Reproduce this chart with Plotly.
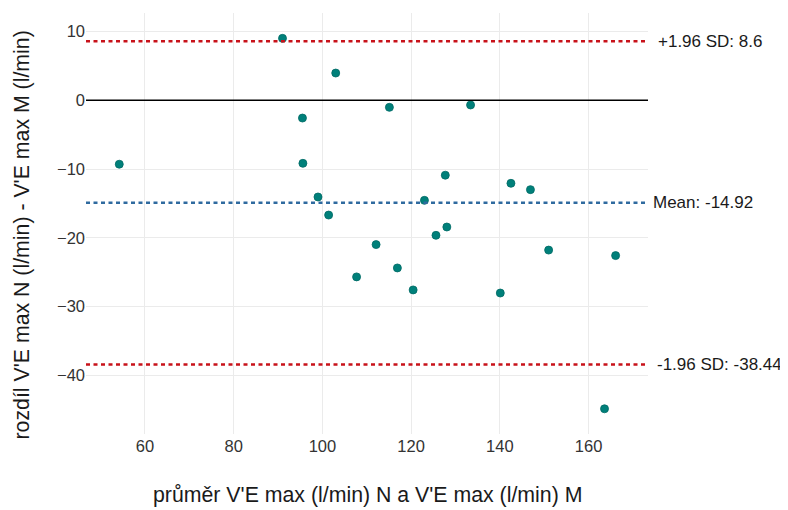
import plotly.graph_objects as go

# Bland-Altman data: mean of two methods (x) and their difference (y)
prumer = [54.2, 91.0, 95.5, 95.6, 103.0, 99.0, 101.4, 107.7, 112.1, 115.1,
          116.9, 120.45, 123.0, 125.6, 127.7, 128.05, 133.4, 140.1, 142.5,
          146.9, 151.0, 163.6, 166.1]
rozdil = [-9.3, 9.02, -2.58, -9.17, 3.97, -14.07, -16.7, -25.7, -21.0, -1.02,
          -24.4, -27.6, -14.56, -19.65, -10.9, -18.44, -0.68, -28.05, -12.08,
          -13.0, -21.8, -44.9, -22.6]

mean_diff = -14.92
upper_loa = 8.6
lower_loa = -38.44

x_ticks = [60, 80, 100, 120, 140, 160]
y_ticks = [10, 0, -10, -20, -30, -40]

x_title = "průměr V'E max (l/min) N a V'E max (l/min) M"
y_title = "rozdíl V'E max N (l/min) - V'E max M (l/min)"

font_family = "Liberation Sans"

fig = go.Figure()

fig.add_trace(go.Scatter(
    x=prumer, y=rozdil, mode="markers",
    marker=dict(color="#00807a", size=8, line=dict(color="#006a65", width=0.8)),
    showlegend=False, hoverinfo="x+y",
))

# reference lines
fig.add_shape(type="line", xref="paper", x0=0, x1=1, yref="y", y0=0, y1=0,
              line=dict(color="black", width=1.5))
for yv, col in [(upper_loa, "#c8121a"), (lower_loa, "#c8121a"), (mean_diff, "#2f6a9f")]:
    fig.add_shape(type="line", xref="paper", x0=0, x1=1, yref="y", y0=yv, y1=yv,
                  line=dict(color=col, width=2.5, dash="4px,3.5px"))

labels = [
    (upper_loa, f"+1.96 SD: {upper_loa}", 8),
    (mean_diff, f"Mean: {mean_diff}", 3),
    (lower_loa, f"-1.96 SD: {lower_loa}", 7),
]
for yv, txt, shift in labels:
    fig.add_annotation(x=1, xref="paper", y=yv, yref="y", text=txt,
                       showarrow=False, xanchor="left", yanchor="middle",
                       xshift=shift, font=dict(size=17, color="#1a1a1a", family=font_family))

# axis titles
fig.add_annotation(x=0.5, xref="paper", y=0, yref="paper", yshift=-61,
                   text=x_title, showarrow=False, xanchor="center", yanchor="middle",
                   font=dict(size=21.3, color="#1a1a1a", family=font_family))
fig.add_annotation(x=0, xref="paper", xshift=-65, y=0.5, yref="paper", yshift=-12,
                   text=y_title, showarrow=False, textangle=-90,
                   xanchor="center", yanchor="middle",
                   font=dict(size=21.3, color="#1a1a1a", family=font_family))

# page body has an 8px margin, so the figure is 8px smaller on each axis
fig.update_layout(
    width=780, height=502,
    margin=dict(l=78, r=140, t=5, b=76, autoexpand=False),
    plot_bgcolor="white", paper_bgcolor="white",
    font=dict(family=font_family, color="#333333"),
    xaxis=dict(
        range=[46.7, 173.4], tickvals=x_ticks, showgrid=True, gridcolor="#ebebeb",
        gridwidth=1, zeroline=False, showline=False, ticks="", automargin=False,
        tickfont=dict(size=16.5, color="#333333"),
    ),
    yaxis=dict(
        range=[-48.57, 12.71], tickvals=y_ticks, showgrid=True, gridcolor="#ebebeb",
        gridwidth=1, zeroline=False, showline=False, ticks="", automargin=False,
        tickfont=dict(size=16.5, color="#333333"),
    ),
)

fig.write_html("out.html")
